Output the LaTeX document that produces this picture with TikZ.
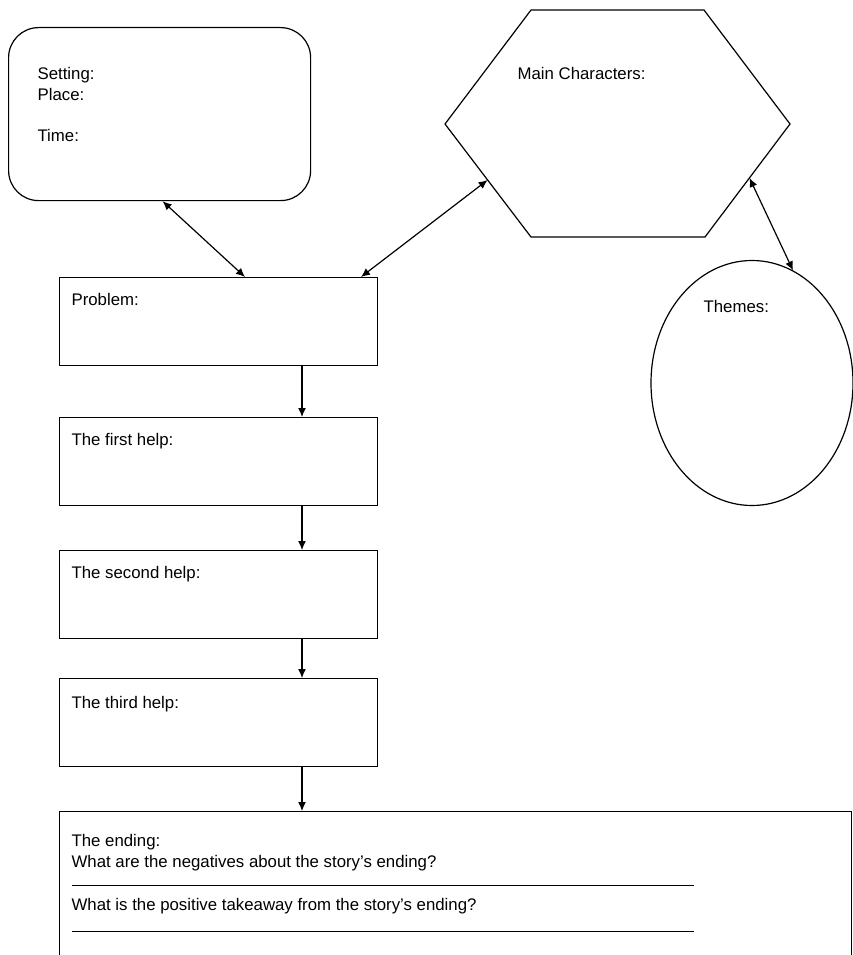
\documentclass[tikz,border=0pt]{standalone}
\usepackage{fontspec}
\setmainfont{Liberation Sans}
\usetikzlibrary{arrows.meta,shapes.geometric}
\begin{document}
\begin{tikzpicture}[x=1pt,y=-1pt,line width=1.2pt,
  box/.style={draw,rectangle,minimum width=318pt,minimum height=88pt,anchor=north west,inner sep=0pt},
  lbl/.style={anchor=base west,inner sep=0pt,font=\fontsize{16.8}{20}\selectfont},
  arr/.style={-{Latex[length=9pt,width=8pt]}},
  darr/.style={{Latex[length=9pt,width=8pt]}-{Latex[length=9pt,width=8pt]}}]
\useasboundingbox (0,0) rectangle (853,955);
% setting
\node[draw,rectangle,rounded corners=30pt,minimum width=302pt,minimum height=173pt,anchor=north west,inner sep=0pt] (setting) at (8,27) {};
\node[lbl] (tset) at (37,80) {Setting:};
\node[lbl] (tplace) at (37,101) {Place:};
\node[lbl] (ttime) at (37,142) {Time:};
% hexagon
\coordinate (hTL) at (531,10);
\coordinate (hTR) at (704,10);
\coordinate (hR) at (790,124);
\coordinate (hBR) at (705,237);
\coordinate (hBL) at (531,237);
\coordinate (hL) at (445,124);
\draw (hTL) -- (hTR) -- (hR) -- (hBR) -- (hBL) -- (hL) -- cycle;
\coordinate (hA) at (487.6,180);
\coordinate (hB) at (749.5,178);
\node[lbl] (tmain) at (517,80) {Main Characters:};
% themes
\node[draw,ellipse,minimum width=202pt,minimum height=245pt,inner sep=0pt] (themes) at (752,383) {};
\node[lbl] (tthemes) at (703,312) {Themes:};
% boxes
\node[box] (prob) at (59,277) {};
\node[lbl] (tprob) at (71,305) {Problem:};
\node[box] (help1) at (59,417) {};
\node[lbl] (th1) at (71,445) {The first help:};
\node[box] (help2) at (59,550) {};
\node[lbl] (th2) at (71,578) {The second help:};
\node[box] (help3) at (59,678) {};
\node[lbl] (th3) at (71,708) {The third help:};
\node[draw,rectangle,minimum width=792pt,minimum height=170pt,anchor=north west,inner sep=0pt] (ending) at (59,811) {};
\node[lbl] (tend) at (71,846) {The ending:};
\node[lbl] (tneg) at (71,867) {What are the negatives about the story's ending?};
\node[lbl] (tpos) at (71,910) {What is the positive takeaway from the story's ending?};
\coordinate (l1a) at (72,885);
\coordinate (l1b) at (694,885);
\coordinate (l2a) at (72,931);
\coordinate (l2b) at (694,931);
\draw[line width=1pt] (l1a) -- (l1b);
\draw[line width=1pt] (l2a) -- (l2b);
% connectors
\draw[darr] ([xshift=3pt]setting.south) -- ([xshift=186pt]prob.north west);
\draw[darr] ([xshift=302pt]prob.north west) -- (hA);
\draw[darr] (hB) -- (themes.70);
\draw[arr] ([xshift=243pt]prob.south west) -- ([xshift=243pt]help1.north west);
\draw[arr] ([xshift=243pt]help1.south west) -- ([xshift=243pt]help2.north west);
\draw[arr] ([xshift=243pt]help2.south west) -- ([xshift=243pt]help3.north west);
\draw[arr] ([xshift=243pt]help3.south west) -- ([xshift=243pt]ending.north west);
\end{tikzpicture}
\end{document}
